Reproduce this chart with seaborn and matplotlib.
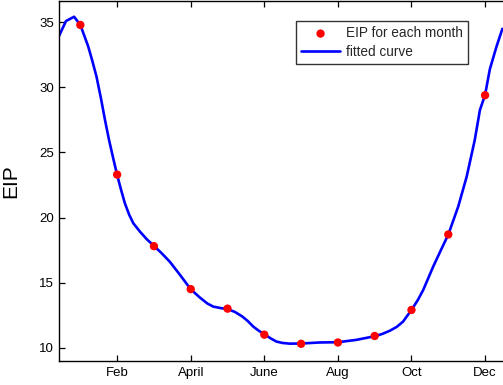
import matplotlib
matplotlib.use("Agg")
import matplotlib.pyplot as plt
import seaborn as sns
import pandas as pd

# Monthly EIP values
months = [1, 2, 3, 4, 5, 6, 7, 8, 9, 10, 11, 12]
eip = [34.8, 23.3, 17.8, 14.5, 13.0, 11.0, 10.3, 10.4, 10.9, 12.9, 18.7, 29.4]

# Fitted curve sampled across the year
fit_month = [0.42, 0.61, 0.83, 1.0, 1.21, 1.32, 1.44, 1.56, 1.67, 1.78, 1.89,
             2.0, 2.1, 2.21, 2.33, 2.44, 2.62, 2.8, 3.0, 3.21, 3.43, 3.71,
             4.0, 4.25, 4.45, 4.61, 4.8, 5.0, 5.2, 5.4, 5.55, 5.7, 5.85, 6.0,
             6.17, 6.33, 6.5, 6.7, 7.0, 7.5, 8.0, 8.5, 9.0, 9.2, 9.41, 9.6,
             9.77, 10.0, 10.17, 10.32, 10.59, 10.8, 11.0, 11.27, 11.5, 11.72,
             11.86, 12.0, 12.13, 12.31, 12.47]
fit_eip = [33.95, 35.1, 35.43, 34.8, 33.18, 32.1, 30.82, 29.16, 27.5, 25.96,
           24.6, 23.27, 22.2, 21.1, 20.2, 19.56, 18.92, 18.35, 17.82, 17.26,
           16.61, 15.59, 14.49, 13.85, 13.4, 13.16, 13.05, 12.96, 12.75, 12.4,
           12.05, 11.62, 11.3, 11.04, 10.72, 10.47, 10.36, 10.31, 10.32, 10.40,
           10.42, 10.6, 10.88, 11.05, 11.3, 11.6, 12.0, 12.9, 13.65, 14.44,
           16.23, 17.5, 18.69, 20.84, 23.14, 25.96, 28.26, 29.42, 31.4, 33.13,
           34.5]

tick_pos = [2, 4, 6, 8, 10, 12]
tick_labels = ["Feb", "April", "June", "Aug", "Oct", "Dec"]
ytick_pos = [10, 15, 20, 25, 30, 35]

sns.set_theme(style="white")
plt.rcParams["font.family"] = ["Liberation Sans", "DejaVu Sans"]

pts = pd.DataFrame({"month": months, "EIP": eip})
curve = pd.DataFrame({"month": fit_month, "EIP": fit_eip})

W, H = 503, 385
fig = plt.figure(figsize=(W / 100, H / 100), dpi=100)
left, right, top, bottom = 59, 505.3, 1, 360.7
ax = fig.add_axes([left / W, (H - bottom) / H, (right - left) / W, (bottom - top) / H])

sns.scatterplot(data=pts, x="month", y="EIP", ax=ax, color="#ff0000",
                s=36, edgecolor="none", zorder=3, label="EIP for each month")
sns.lineplot(data=curve, x="month", y="EIP", ax=ax, color="#0000ff",
             linewidth=1.9, sort=False, zorder=2, label="fitted curve")

ax.set_xlim(0.42, 12.55)
ax.set_ylim(9.0, 36.64)
ax.set_xticks(tick_pos)
ax.set_xticklabels(tick_labels)
ax.set_yticks(ytick_pos)
ax.set_xlabel("")
ax.set_ylabel("EIP", fontsize=15, color="black")
ax.yaxis.set_label_coords(-0.0863, 0.5)

ax.tick_params(axis="both", direction="in", length=4, width=0.9, colors="black",
               labelsize=9.5, top=True, bottom=True, left=True, right=False)
ax.tick_params(axis="x", pad=4.5)
ax.tick_params(axis="y", pad=3.5)
for side in ["left", "bottom", "top", "right"]:
    ax.spines[side].set_color("black")
    ax.spines[side].set_linewidth(1.0)

leg = ax.legend(loc="upper left", bbox_to_anchor=((295.7 - left) / (right - left),
                                                   1 - (20.7 - top) / (bottom - top)),
                fontsize=9.8, frameon=True, fancybox=False, borderpad=0.4,
                handlelength=2.85, handletextpad=0.43, labelspacing=0.35,
                borderaxespad=0)
leg.get_frame().set_edgecolor("black")
leg.get_frame().set_linewidth(1.0)

fig.savefig("out.png", dpi=100)
